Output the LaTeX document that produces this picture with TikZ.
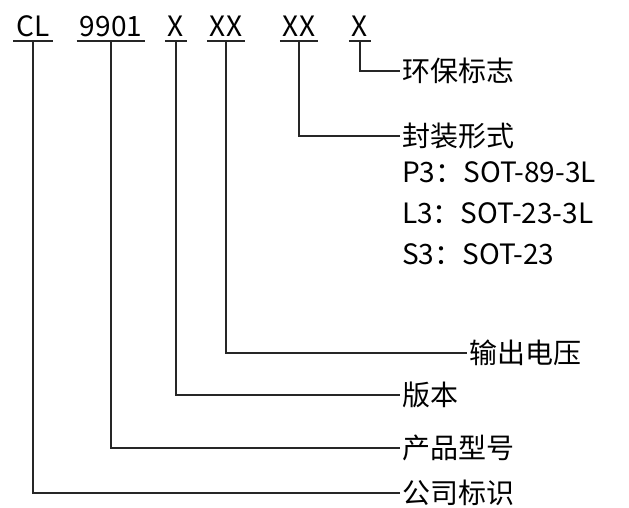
\documentclass[tikz,border=0pt]{standalone}
\usepackage{fontspec}
\setmainfont{Noto Sans CJK SC}
\usetikzlibrary{positioning}

\begin{document}
\begin{tikzpicture}[
    x=1pt, y=-1pt,
    code/.style={inner xsep=3pt, inner ysep=4pt, text depth=0pt, anchor=south},
    desc/.style={inner xsep=2pt, inner ysep=0pt, anchor=west},
    wire/.style={line width=1.3pt, black!85}
  ]
\useasboundingbox (0,0) rectangle (629,508);
\fontsize{28}{32}\selectfont

% Part number fields
\node[code] (cl)   at (33,41)  {CL};
\node[code] (num)  at (111,41) {9901};
\node[code] (ver)  at (176,41) {X};
\node[code] (vout) at (226,41) {XX};
\node[code] (pkg)  at (299,41) {XX};
\node[code] (env)  at (360,41) {X};
\foreach \f in {cl,num,ver,vout,pkg,env}
  \draw[wire] (\f.south west) -- (\f.south east);

% Descriptions
\node[desc] (envlbl)  at (400,71)  {环保标志};
\node[desc] (pkglbl)  at (400,136) {封装形式};
\node[desc] (p3)      at (400,172) {P3：SOT-89-3L};
\node[desc] (l3)      at (400,213) {L3：SOT-23-3L};
\node[desc] (s3)      at (400,254) {S3：SOT-23};
\node[desc] (voutlbl) at (467,353) {输出电压};
\node[desc] (verlbl)  at (400,395) {版本};
\node[desc] (numlbl)  at (400,448) {产品型号};
\node[desc] (cllbl)   at (400,493) {公司标识};

% Connectors
\draw[wire] (env.south)  |- (envlbl.west);
\draw[wire] (pkg.south)  |- (pkglbl.west);
\draw[wire] (vout.south) |- (voutlbl.west);
\draw[wire] (ver.south)  |- (verlbl.west);
\draw[wire] (num.south)  |- (numlbl.west);
\draw[wire] (cl.south)   |- (cllbl.west);

\end{tikzpicture}
\end{document}
